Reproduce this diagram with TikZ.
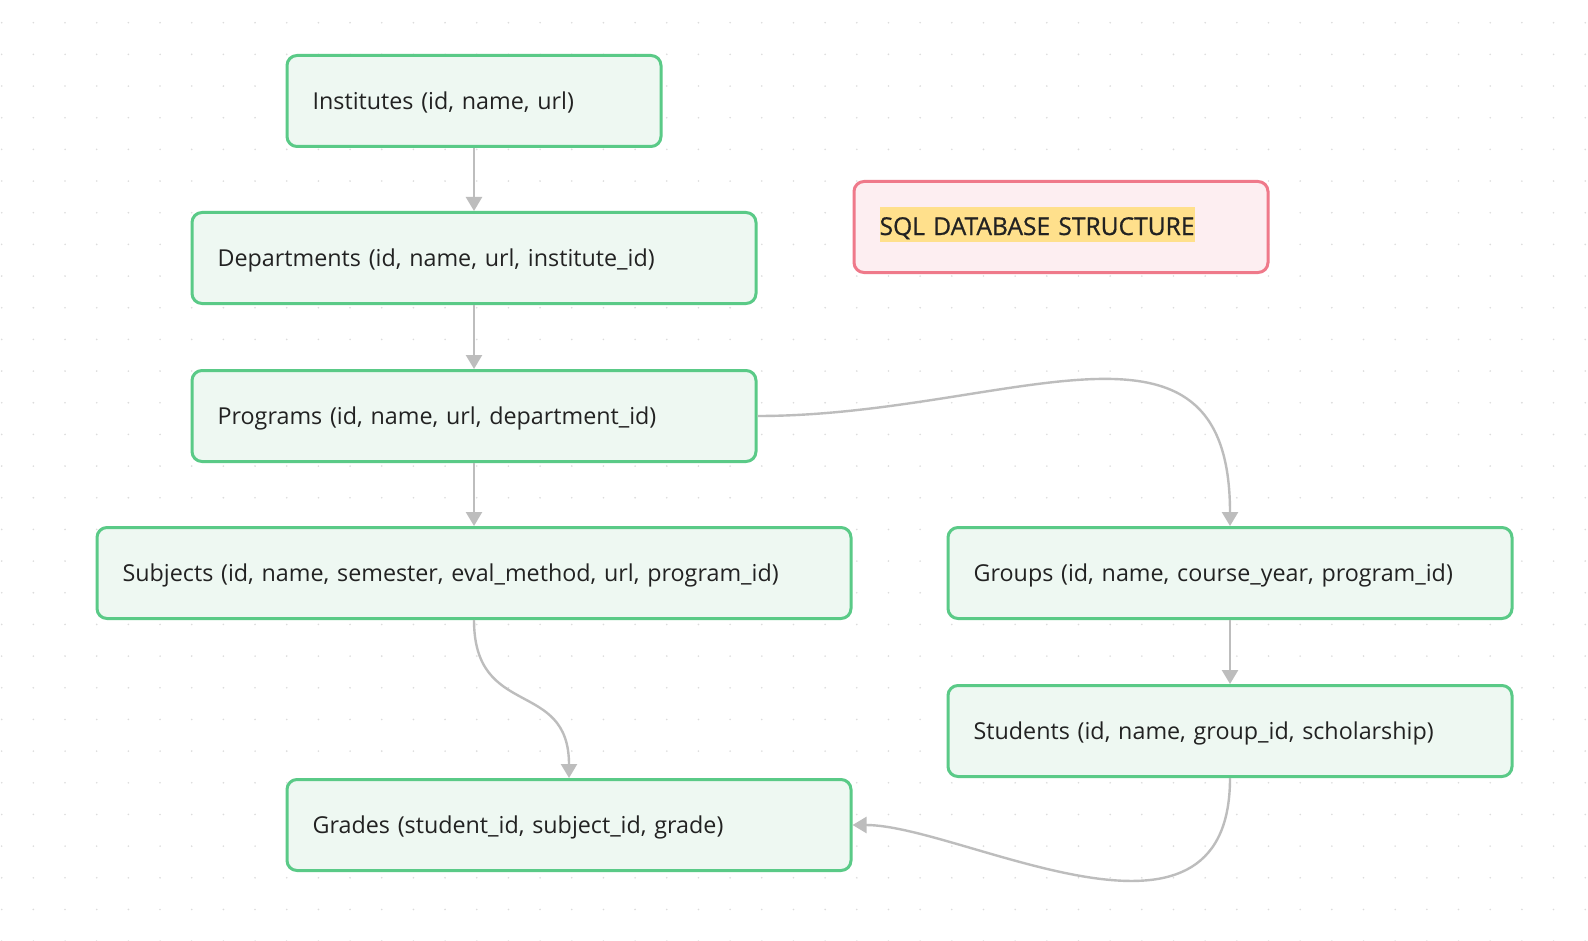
\documentclass[tikz,border=0pt]{standalone}
\usepackage{fontspec}
\setmainfont{Open Sans}
\newfontfamily\noteFont[FakeBold=0.8]{Open Sans}
\usetikzlibrary{arrows.meta, positioning}
\definecolor{tblFill}{RGB}{238,248,242}
\definecolor{tblBorder}{RGB}{90,202,135}
\definecolor{noteFill}{RGB}{253,238,241}
\definecolor{noteBorder}{RGB}{239,121,138}
\definecolor{noteMark}{RGB}{255,224,140}
\definecolor{linkGray}{RGB}{189,189,189}
\definecolor{gridDot}{RGB}{220,220,220}
\definecolor{txtDark}{RGB}{34,34,34}
\setlength{\fboxsep}{0pt}
\tikzstyle{tblNode}=[draw=tblBorder, fill=tblFill, line width=1.5pt, rounded corners=5pt, minimum height=45.5pt, inner xsep=12.8pt, align=left, text=txtDark, text height=10.5pt, text depth=2.4pt, font=\fontsize{11.65}{14}\selectfont]
\tikzstyle{noteNode}=[tblNode, draw=noteBorder, fill=noteFill, text height=14pt, text depth=6pt, font=\noteFont\fontsize{12.3}{14}\selectfont]
\tikzstyle{tblLink}=[draw=linkGray, line width=1.2pt, -{Triangle[length=7pt,width=8pt]}]

\begin{document}
\begin{tikzpicture}[x=0.5pt, y=-0.5pt]
    \useasboundingbox (0,0) rectangle (1588,941);
    \fill[white] (0,0) rectangle (1588,941);
    % Dot grid
    \foreach \gx in {0,...,50}
        \foreach \gy in {0,...,29}
            \fill[gridDot] (1.7+31.67*\gx, 22.7+31.67*\gy) circle (0.9);

    % Table Nodes
    \node[tblNode, text width=161.4pt] (institutes) at (474,101) {Institutes (id, name, url)};
    \node[tblNode, text width=256.4pt] (departments) at (474,258) {Departments (id, name, url, institute\_id)};
    \node[tblNode, text width=256.4pt] (programs) at (474,416) {Programs (id, name, url, department\_id)};
    \node[tblNode, text width=351.4pt] (subjects) at (474,573) {Subjects (id, name, semester, eval\_method, url, program\_id)};
    \node[tblNode, text width=256.4pt] (groups) at (1230,573) {Groups (id, name, course\_year, program\_id)};
    \node[tblNode, text width=256.4pt] (students) at (1230,731) {Students (id, name, group\_id, scholarship)};
    \node[tblNode, text width=256.4pt] (grades) at (569,825) {Grades (student\_id, subject\_id, grade)};

    % Title Note
    \node[noteNode, text width=181.4pt] (title) at (1061,227) {\colorbox{noteMark}{\rule[-3.5pt]{0pt}{17.5pt}SQL DATABASE STRUCTURE}};

    % Links
    \draw[tblLink] (institutes) -- (departments);
    \draw[tblLink] (departments) -- (programs);
    \draw[tblLink] (programs) -- (subjects);
    \draw[tblLink] (programs.east) .. controls +(250,0) and +(0,-240) .. (groups.north);
    \draw[tblLink] (groups) -- (students);
    \draw[tblLink] (subjects.south) .. controls +(0,100) and +(0,-100) .. (grades.north);
    \draw[tblLink] (students.south) .. controls +(0,200) and +(109,0) .. (grades.east);
\end{tikzpicture}
\end{document}
